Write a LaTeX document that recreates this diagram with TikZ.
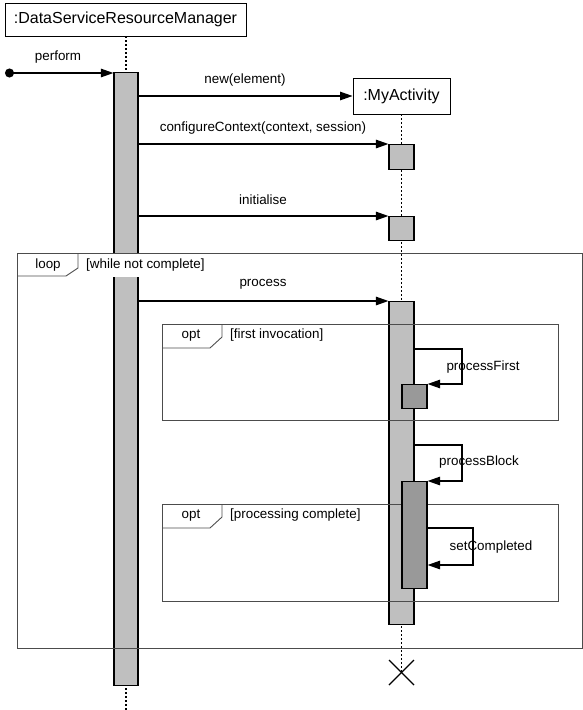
\documentclass[tikz,border=0pt]{standalone}
\usepackage{fontspec}
\setmainfont{Liberation Sans}
\usetikzlibrary{arrows.meta,calc}
\begin{document}
\begin{tikzpicture}[x=1pt,y=-1pt,
  objbox/.style={draw=black,line width=0.9pt,fill=white,inner sep=0pt,font=\fontsize{16}{18}\selectfont},
  lifeline/.style={line width=1.4pt,dash pattern=on 2pt off 2pt},
  actbar/.style={draw=black,line width=1.2pt,fill=black!25,inner sep=0pt,minimum width=24pt,anchor=north},
  nestbar/.style={draw=black,line width=1.2pt,fill=black!40,inner sep=0pt,minimum width=25pt,anchor=north},
  tip/.tip={Triangle[length=12.5pt,width=8.5pt]},
  msg/.style={line width=1.2pt,-tip},
  lbl/.style={font=\fontsize{13.4}{15}\selectfont,inner sep=0pt},
  frame/.style={draw=black!70,line width=0.9pt},
  guard/.style={font=\fontsize{13.4}{15}\selectfont,anchor=west,fill=white,inner sep=2pt}
]
\useasboundingbox (0,0) rectangle (583,710);

% objects
\node[objbox,minimum width=241pt,minimum height=33pt] (dsrm) at (125.5,19.5) {:DataServiceResourceManager};
\node[objbox,minimum width=97pt,minimum height=36pt] (act) at (401.5,96) {:MyActivity};

% lifelines
\coordinate (dend) at (126,710);
\coordinate (xmark) at (401.5,672.5);
\draw[lifeline] (dsrm.south -| dend) -- (dend);
\draw[lifeline] (act.south) -- (xmark);

% activation bars
\node[actbar,minimum height=613pt] (dbar) at (126,72) {};
\node[actbar,minimum width=25pt,minimum height=25pt] (c1) at (401.5,144) {};
\node[actbar,minimum width=25pt,minimum height=24pt] (c2) at (401.5,216) {};
\node[actbar,minimum width=25pt,minimum height=323pt] (pbar) at (401.5,301) {};

% combined fragments
\draw[frame] (17,253) rectangle (582,648);
\draw[frame] (17,276) -- (66,276) -- (78,268) -- (78,253);
\node[lbl] (looptag) at (48,265) {loop};
\node[guard,minimum height=23pt] (loopguard) at (84,265) {[while not complete]};

\draw[frame] (162,324) rectangle (558,420);
\draw[frame] (162,348) -- (210,348) -- (222,337) -- (222,324);
\node[lbl] (opt1tag) at (191,336) {opt};
\node[guard] (opt1guard) at (228,335) {[first invocation]};

\draw[frame] (162,504) rectangle (558,601);
\draw[frame] (162,528) -- (210,528) -- (222,517) -- (222,504);
\node[lbl] (opt2tag) at (191,516) {opt};
\node[guard] (opt2guard) at (228,515) {[processing complete]};

% nested activations
\node[nestbar,minimum height=24pt] (n1) at (414.5,384) {};
\node[nestbar,minimum height=107pt] (n2) at (414.5,481) {};

% messages
\coordinate (start) at (5,73);
\draw[line width=1.2pt,{Circle[length=9pt]}-tip] (start) -- (dbar.west |- start);
\node[lbl] (lperform) at (58,57) {perform};

\draw[msg] (dbar.east |- act.west) -- (act.west);
\node[lbl] (lnew) at (245,80) {new(element)};

\draw[msg] (dbar.east |- c1.north west) -- (c1.north west);
\node[lbl] (lconf) at (263,128) {configureContext(context, session)};

\draw[msg] (dbar.east |- c2.north west) -- (c2.north west);
\node[lbl] (linit) at (263,200) {initialise};

\draw[msg] (dbar.east |- pbar.north west) -- (pbar.north west);
\node[lbl] (lproc) at (263,284) {process};

\coordinate (pf) at (462,349);
\draw[msg] (pbar.east |- pf) -- (pf) |- (n1.north east);
\node[lbl] (lpf) at (483,367) {processFirst};

\coordinate (pb) at (462,445);
\draw[msg] (pbar.east |- pb) -- (pb) |- (n2.north east);
\node[lbl] (lpb) at (479,462) {processBlock};

\coordinate (sc) at (473,528);
\coordinate (scend) at (427,565);
\draw[msg] (n2.east |- sc) -- (sc) |- (n2.east |- scend);
\node[lbl] (lsc) at (491,547) {setCompleted};

% destruction
\draw[line width=1.2pt] ($(xmark)+(-12.5,-12.5)$) -- ($(xmark)+(12.5,12.5)$);
\draw[line width=1.2pt] ($(xmark)+(12.5,-12.5)$) -- ($(xmark)+(-12.5,12.5)$);
\end{tikzpicture}
\end{document}
